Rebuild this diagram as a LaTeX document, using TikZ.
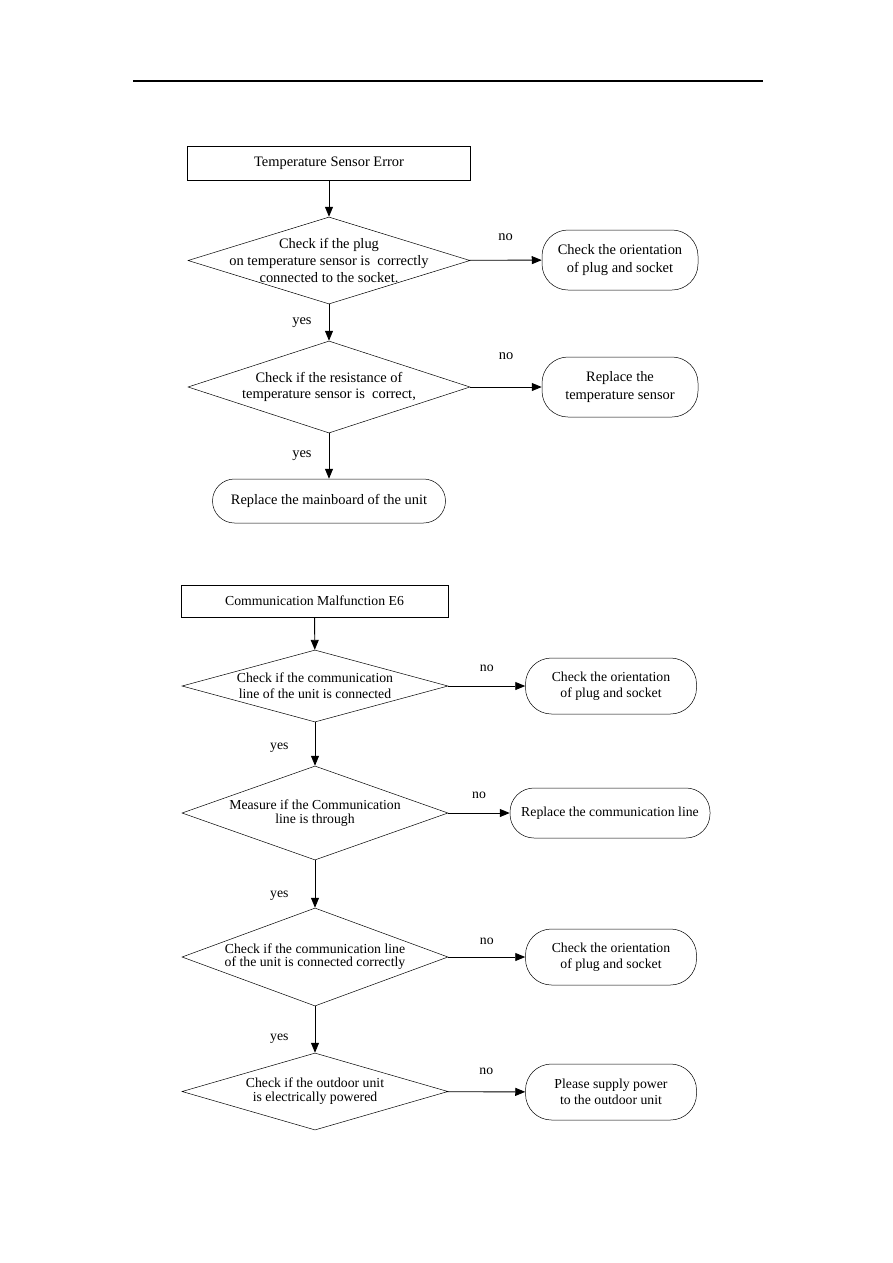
\documentclass[tikz,border=0pt]{standalone}
\usepackage{fontspec}
\setmainfont{Liberation Serif}
\usetikzlibrary{arrows.meta,shapes.geometric}
\tikzset{
  arr/.style={-{Triangle[length=10bp,width=8bp]},line width=0.9bp},
  hdbox/.style={draw,line width=0.7bp,inner sep=0pt},
  dec/.style={draw,diamond,line width=0.5bp,inner sep=0pt},
  endbox/.style={draw,line width=0.5bp,rounded corners=#1,inner sep=0pt,align=center},
  endbox/.default=26bp,
  txt/.style={align=center,inner sep=0pt},
  big/.style={font=\fontsize{14.5}{17.5}\selectfont},
  small/.style={font=\fontsize{13.8}{16.5}\selectfont},
  lab/.style={inner sep=0pt}
}
\begin{document}
\begin{tikzpicture}[x=1bp,y=-1bp]
  \useasboundingbox (0,0) rectangle (893,1263);
  \draw[line width=1.2bp] (133,81) -- (763,81);

  \node[hdbox,big,minimum width=283bp,minimum height=34bp] (h1) at (329,163) {Temperature Sensor Error};
  \node[dec,minimum width=282bp,minimum height=87bp,
    label={[txt,big]center:{Check if the plug\\on temperature sensor is\ \ correctly\\connected to the socket.}}] (d1) at (329,260.5) {};
  \node[endbox,big,minimum width=156bp,minimum height=60bp] (o1) at (620,260) {Check the orientation\\of plug and socket};
  \node[dec,minimum width=282bp,minimum height=92bp,
    label={[txt,big,font=\fontsize{14.5}{15.5}\selectfont]center:{Check if the resistance of\\temperature sensor is\ \ correct,}}] (d2) at (329,387) {};
  \node[endbox,big,minimum width=156bp,minimum height=60bp] (o2) at (620,387) {Replace the\\temperature sensor};
  \node[endbox=22bp,big,minimum width=233bp,minimum height=44bp] (o3) at (329,501) {Replace the mainboard of the unit};

  \draw[arr] (h1) -- (d1);
  \draw[arr] (d1) -- node[lab,big,above=19bp]{no} (o1);
  \draw[arr] (d1) -- node[lab,big,left=17bp]{yes} (d2);
  \draw[arr] (d2) -- node[lab,big,above=27bp]{no} (o2);
  \draw[arr] (d2) -- node[lab,big,left=17bp]{yes} (o3);

  \node[hdbox,small,minimum width=267bp,minimum height=32bp] (h2) at (314.5,601) {Communication Malfunction E6};
  \node[dec,minimum width=266bp,minimum height=72bp,
    label={[txt,small,font=\fontsize{13.8}{16}\selectfont]center:{Check if the communication\\line of the unit is connected}}] (d3) at (315,686) {};
  \node[endbox,small,minimum width=171bp,minimum height=56bp] (o4) at (611,686) {Check the orientation\\of plug and socket};
  \node[dec,minimum width=266bp,minimum height=94bp,
    label={[txt,small,font=\fontsize{13.8}{14}\selectfont]center:{Measure if the Communication\\line is through}}] (d4) at (315,813) {};
  \node[endbox=24bp,small,minimum width=200bp,minimum height=50bp] (o5) at (610,813) {Replace the communication line};
  \node[dec,minimum width=266bp,minimum height=98bp,
    label={[txt,small,font=\fontsize{13.8}{13}\selectfont]center:{Check if the communication line\\of the unit is connected correctly}}] (d5) at (315,957) {};
  \node[endbox,small,minimum width=171bp,minimum height=56bp] (o6) at (611,957) {Check the orientation\\of plug and socket};
  \node[dec,minimum width=266bp,minimum height=77bp,
    label={[txt,small,font=\fontsize{13.8}{14}\selectfont]center:{Check if the outdoor unit\\is electrically powered}}] (d6) at (315,1091.5) {};
  \node[endbox,small,minimum width=171bp,minimum height=56bp] (o7) at (611,1092) {Please supply power\\to the outdoor unit};

  \draw[arr] (h2) -- (d3);
  \draw[arr] (d3) -- node[lab,small,above=14bp]{no} (o4);
  \draw[arr] (d3) -- node[lab,small,left=26bp,yshift=-4bp]{yes} (d4);
  \draw[arr] (d4) -- node[lab,small,above=14bp]{no} (o5);
  \draw[arr] (d4) -- node[lab,small,left=26bp,yshift=-12bp]{yes} (d5);
  \draw[arr] (d5) -- node[lab,small,above=12bp]{no} (o6);
  \draw[arr] (d5) -- node[lab,small,left=26bp,yshift=-9bp]{yes} (d6);
  \draw[arr] (d6) -- node[lab,small,above=17bp]{no} (o7);
\end{tikzpicture}
\end{document}
